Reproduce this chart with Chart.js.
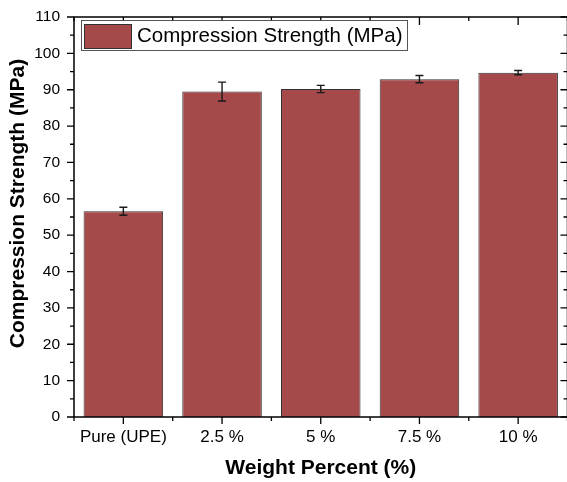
<!DOCTYPE html>
<html>
<head>
<meta charset="utf-8">
<script src="https://cdn.jsdelivr.net/npm/chart.js@4/dist/chart.umd.min.js"></script>
<style>
html,body{margin:0;padding:0;background:#fff;overflow:hidden;width:567px;height:482px;}
#wrap{position:relative;width:580px;height:482px;}
canvas{display:block;}
</style>
</head>
<body>
<div id="wrap"><canvas id="c" width="580" height="482"></canvas></div>
<script>
const categories = ['Pure (UPE)', '2.5 %', '5 %', '7.5 %', '10 %'];
const strength = [56.6, 89.5, 90.2, 92.9, 94.7];
const strengthErr = [1.1, 2.6, 1.0, 1.0, 0.6];
const yMin = 0, yMax = 110, yStep = 10, yMinorStep = 5;
const seriesLabel = 'Compression Strength (MPa)';
const xTitle = 'Weight Percent (%)';
const yTitle = 'Compression Strength (MPa)';

const BAR_COLOR = '#A5494B';
const BAR_BORDER = '#333333';
const FONT = '"Liberation Sans", Arial, sans-serif';

const framePlugin = {
  id: 'frame',
  afterDatasetsDraw(chart) {
    const ctx = chart.ctx;
    const a = chart.chartArea;
    const xs = chart.scales.x, ys = chart.scales.y;
    ctx.save();
    // error bars
    ctx.strokeStyle = '#1a1a1a';
    ctx.lineWidth = 1.4;
    strength.forEach((v, i) => {
      const x = xs.getPixelForValue(i);
      const yt = ys.getPixelForValue(v + strengthErr[i]);
      const yb = ys.getPixelForValue(v - strengthErr[i]);
      ctx.beginPath();
      ctx.moveTo(x, yt); ctx.lineTo(x, yb);
      ctx.moveTo(x - 4, yt); ctx.lineTo(x + 4, yt);
      ctx.moveTo(x - 4, yb); ctx.lineTo(x + 4, yb);
      ctx.stroke();
    });
    // frame
    ctx.strokeStyle = '#000';
    ctx.lineWidth = 1.5;
    ctx.strokeRect(a.left, a.top, a.right - a.left, a.bottom - a.top);
    // y ticks
    ctx.lineWidth = 1.3;
    ctx.beginPath();
    for (let v = yMin; v <= yMax + 1e-9; v += yMinorStep) {
      const y = ys.getPixelForValue(v);
      const major = Math.abs(v % yStep) < 1e-9;
      const L = major ? 7 : 4;
      ctx.moveTo(a.left, y); ctx.lineTo(a.left - L, y);
      ctx.moveTo(a.right, y); ctx.lineTo(a.right - L, y);
    }
    // x ticks
    for (let i = 0; i < categories.length; i++) {
      const x = xs.getPixelForValue(i);
      ctx.moveTo(x, a.bottom); ctx.lineTo(x, a.bottom + 7);
      ctx.moveTo(x, a.top); ctx.lineTo(x, a.top + 8);
    }
    for (let i = 0; i <= categories.length; i++) {
      const x = xs.getPixelForValue(i - 0.5);
      ctx.moveTo(x, a.bottom); ctx.lineTo(x, a.bottom + 4);
      ctx.moveTo(x, a.top); ctx.lineTo(x, a.top + 4);
    }
    ctx.stroke();

    // legend
    const lx = 81.5, ly = 20.5, lw = 326, lh = 30;
    ctx.fillStyle = '#fff';
    ctx.fillRect(lx, ly, lw, lh);
    ctx.strokeStyle = '#555';
    ctx.lineWidth = 1;
    ctx.strokeRect(lx, ly, lw, lh);
    ctx.fillStyle = BAR_COLOR;
    ctx.fillRect(84.5, 24.5, 47, 24);
    ctx.strokeStyle = BAR_BORDER;
    ctx.strokeRect(84.5, 24.5, 47, 24);
    ctx.fillStyle = '#000';
    ctx.font = '20.5px ' + FONT;
    ctx.textAlign = 'left';
    ctx.textBaseline = 'alphabetic';
    ctx.fillText(chart.data.datasets[0].label, 137, 41.5);

    // axis titles
    ctx.font = 'bold 21px ' + FONT;
    ctx.textAlign = 'center';
    ctx.textBaseline = 'middle';
    ctx.fillText(xTitle, (a.left + a.right) / 2, 468);
    ctx.translate(18.5, 203.5);
    ctx.rotate(-Math.PI / 2);
    ctx.fillText(yTitle, 0, 0);
    ctx.restore();
  }
};

new Chart(document.getElementById('c'), {
  type: 'bar',
  data: {
    labels: categories,
    datasets: [{
      label: seriesLabel,
      data: strength,
      backgroundColor: BAR_COLOR,
      borderColor: BAR_BORDER,
      borderWidth: 1,
      barPercentage: 0.806,
      categoryPercentage: 1.0
    }]
  },
  options: {
    responsive: false,
    animation: false,
    devicePixelRatio: 1,
    layout: { padding: { left: 0, right: 12.5, top: 17, bottom: 0 } },
    plugins: { legend: { display: false }, tooltip: { enabled: false } },
    scales: {
      x: {
        grid: { display: false, drawTicks: false },
        border: { display: false },
        ticks: { color: '#000', font: { family: FONT, size: 17 }, padding: 10, maxRotation: 0, autoSkip: false },
        afterFit(s) { s.height = 65; s.paddingLeft = 0; s.paddingRight = 0; }
      },
      y: {
        min: yMin, max: yMax,
        grid: { display: false, drawTicks: false },
        border: { display: false },
        ticks: { stepSize: yStep, color: '#000', font: { family: FONT, size: 15.5 }, padding: 14 },
        afterFit(s) { s.width = 74; s.paddingTop = 0; s.paddingBottom = 0; }
      }
    }
  },
  plugins: [framePlugin]
});
</script>
</body>
</html>
